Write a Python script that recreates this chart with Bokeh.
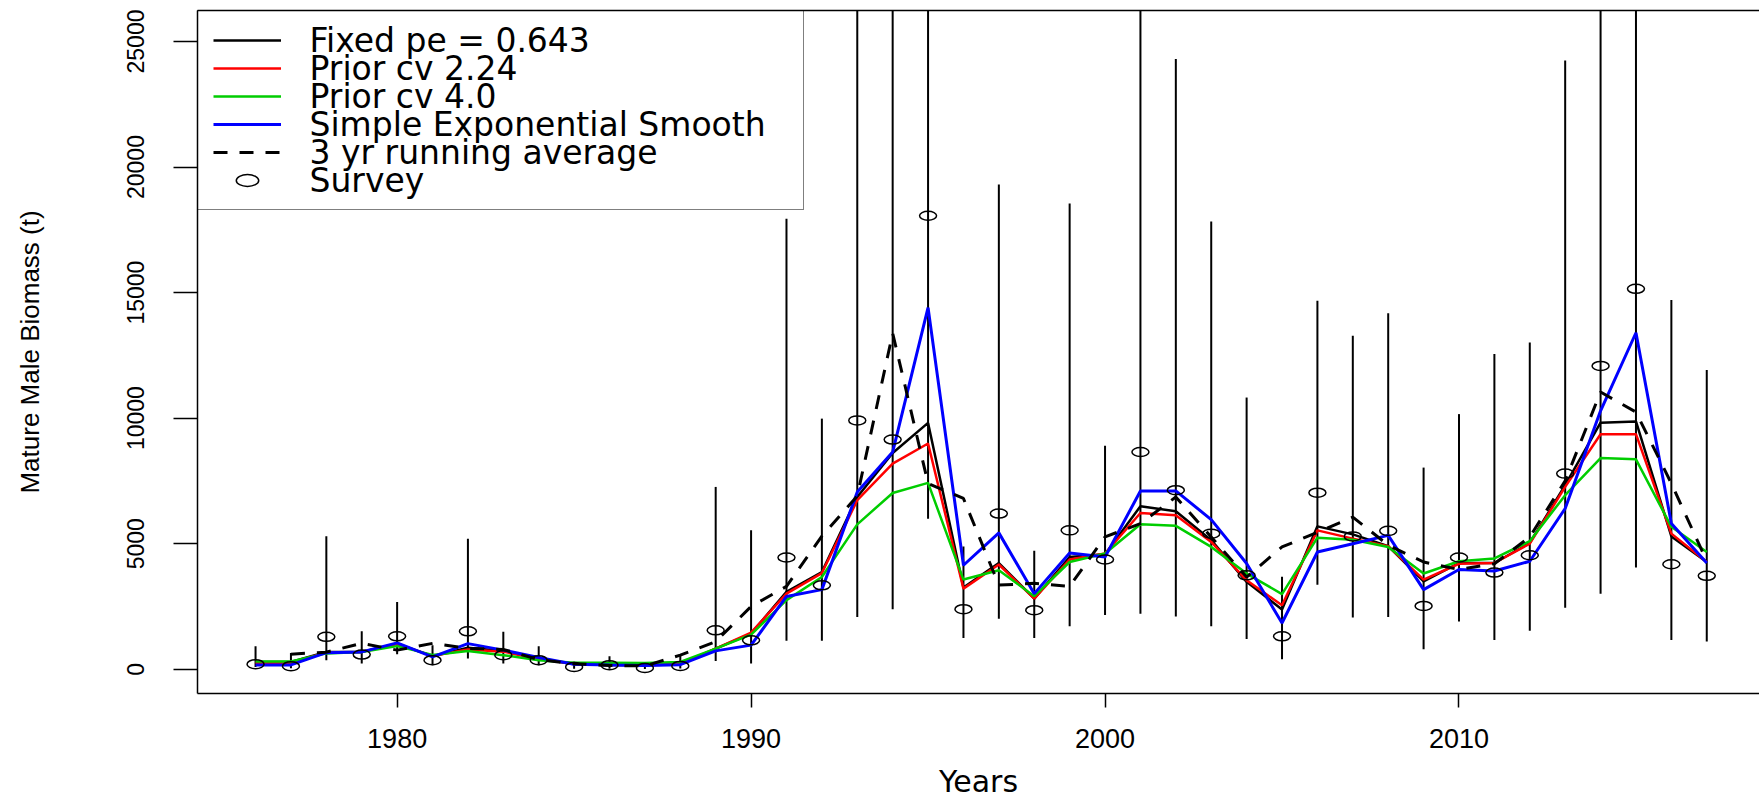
from bokeh.plotting import figure
from bokeh.models import (ColumnDataSource, Legend, LegendItem, LinearAxis,
                          FixedTicker, Range1d, Label)
from bokeh.embed import file_html
from bokeh.resources import INLINE

# ---------------- data ----------------
years = list(range(1976, 2018))

survey = [200, 120, 1290, 585, 1310, 360, 1510, 560, 360, 90,
          160, 50, 130, 1550, 1150, 4450, 3340, 9910, 9145, 18060,
          2390, 6200, 2350, 5530, 4370, 8650, 7130, 5400, 3740, 1310,
          7030, 5290, 5510, 2520, 4450, 3850, 4540, 7790, 12080, 15150,
          4180, 3720]

survey_lo = [90, 40, 360, 225, 600, 160, 425, 225, 160, 20,
             20, 10, 30, 330, 230, 1130, 1130, 2080, 2390, 5990,
             1240, 2010, 1240, 1710, 2160, 2210, 2100, 1710, 1200, 400,
             3360, 2060, 2080, 800, 1900, 1160, 1530, 2450, 3010, 4050,
             1160, 1100]

survey_hi = [915, 650, 5300, 1510, 2680, 955, 5200, 1490, 915, 300,
             520, 270, 600, 7260, 5530, 17940, 9980, 47000, 35000, 54000,
             4890, 19300, 4720, 18550, 8900, 34000, 24300, 17830, 10820, 3680,
             14670, 13280, 14180, 8030, 10160, 12550, 13010, 24240, 48500, 56800,
             14700, 11920]

fixed_pe = [290, 290, 690, 690, 1020, 520, 860, 730, 425, 200,
            170, 160, 200, 820, 1420, 3080, 3870, 6860, 8610, 9810,
            3250, 4230, 2810, 4470, 4580, 6490, 6290, 5140, 3480, 2380,
            5690, 5370, 4900, 3500, 4230, 4230, 5030, 7330, 9820, 9870,
            5290, 4270]

prior_cv224 = [260, 260, 670, 690, 1000, 530, 790, 700, 410, 220,
               180, 170, 210, 820, 1460, 3010, 3830, 6730, 8190, 8990,
               3210, 4170, 2810, 4370, 4610, 6220, 6130, 5070, 3540, 2550,
               5530, 5200, 4900, 3570, 4200, 4230, 5000, 7260, 9360, 9360,
               5400, 4270]

prior_cv40 = [310, 310, 630, 690, 920, 570, 730, 560, 360, 260,
              260, 250, 290, 820, 1380, 2750, 3670, 5770, 7020, 7420,
              3570, 3940, 2910, 4270, 4610, 5770, 5710, 4870, 3810, 2990,
              5240, 5160, 4870, 3810, 4300, 4410, 5100, 6930, 8410, 8360,
              5670, 4670]

ses = [170, 170, 660, 690, 1050, 490, 1020, 760, 470, 200,
       170, 150, 180, 730, 960, 2900, 3170, 7060, 8650, 14400,
       4140, 5430, 3010, 4630, 4470, 7100, 7100, 5960, 4210, 1840,
       4670, 5000, 5330, 3170, 3970, 3910, 4300, 6400, 10290, 13400,
       5800, 4230]

run_years = list(range(1977, 2018))
run_avg = [600, 680, 1030, 760, 1030, 830, 790, 380, 220,
           150, 130, 560, 1100, 2500, 3300, 5300, 6900, 13380, 7400,
           6800, 3350, 3420, 3300, 5270, 5800, 6860, 5270, 3670, 4870,
           5450, 6060, 4940, 4270, 3970, 4200, 5270, 7500, 11040, 10240,
           7400, 4300]

x_ticks = [1980, 1990, 2000, 2010]
y_ticks = [0, 5000, 10000, 15000, 20000, 25000]

legend_labels = ["Fixed pe = 0.643", "Prior cv 2.24", "Prior cv 4.0",
                 "Simple Exponential Smooth", "3 yr running average", "Survey"]

# ---------------- figure ----------------
FRAME_BOTTOM = 115
p = figure(width=1759, height=808, output_backend="svg", toolbar_location=None,
           x_range=Range1d(1974.36, 2018.49), y_range=Range1d(-967, 26234),
           min_border_left=197, min_border_right=0, min_border_top=10,
           min_border_bottom=FRAME_BOTTOM, background_fill_color="white",
           border_fill_color="white")
p.grid.visible = False
p.outline_line_color = None

src = ColumnDataSource(dict(year=years, survey=survey, lo=survey_lo, hi=survey_hi,
                            fixed=fixed_pe, p224=prior_cv224, p40=prior_cv40, ses=ses))
rsrc = ColumnDataSource(dict(year=run_years, avg=run_avg))

p.segment(x0="year", y0="lo", x1="year", y1="hi", source=src,
          line_color="black", line_width=2)

r_fixed = p.line("year", "fixed", source=src, line_color="black", line_width=2.5)
r_224 = p.line("year", "p224", source=src, line_color="#FF0000", line_width=2.5)
r_40 = p.line("year", "p40", source=src, line_color="#00CD00", line_width=2.5)
r_ses = p.line("year", "ses", source=src, line_color="#0000FF", line_width=3)
r_run = p.line("year", "avg", source=rsrc, line_color="black", line_width=3,
               line_dash="14 12")
r_surv = p.ellipse(x="year", y="survey", width=17, height=9,
                   width_units="screen", height_units="screen", source=src,
                   fill_color=None, line_color="black", line_width=1.5)

# ---------------- axes ----------------
xa = p.below[0]
xa.ticker = FixedTicker(ticks=x_ticks)
xa.axis_label = "Years"
xa.axis_line_color = "black"
xa.axis_line_width = 1.5
xa.major_tick_out = 14
xa.major_tick_in = 0
xa.minor_tick_out = 0
xa.minor_tick_in = 0
xa.major_tick_line_width = 1.5
xa.major_label_text_font = "Liberation Sans"
xa.major_label_text_font_size = "27px"
xa.major_label_text_color = "black"
xa.major_label_standoff = 21
xa.axis_label_text_font = "DejaVu Sans"
xa.axis_label_text_font_size = "30px"
xa.axis_label_text_font_style = "normal"
xa.axis_label_text_color = "black"
xa.axis_label_standoff = 13

ya = p.left[0]
ya.ticker = FixedTicker(ticks=y_ticks)
ya.axis_label = "Mature Male Biomass (t)"
ya.axis_line_color = "black"
ya.axis_line_width = 1.5
ya.major_tick_out = 24
ya.major_tick_in = 0
ya.minor_tick_out = 0
ya.minor_tick_in = 0
ya.major_tick_line_width = 1.5
ya.major_label_orientation = "vertical"
ya.major_label_text_font = "Liberation Sans"
ya.major_label_text_font_size = "23px"
ya.major_label_text_color = "black"
ya.major_label_standoff = 29
ya.axis_label_text_font = "Liberation Sans"
ya.axis_label_text_font_size = "26px"
ya.axis_label_text_font_style = "normal"
ya.axis_label_text_color = "black"
ya.axis_label_standoff = 80

top = LinearAxis(ticker=FixedTicker(ticks=[]), major_tick_out=0, major_tick_in=0,
                 minor_tick_out=0, minor_tick_in=0, major_label_standoff=0,
                 major_label_text_font_size="0px", axis_line_color="black",
                 axis_line_width=1.5)
p.add_layout(top, "above")

# ---------------- legend (glyph samples + box) ----------------
renderers = [r_fixed, r_224, r_40, r_ses, r_run, r_surv]
items = [LegendItem(label=" ", renderers=[r]) for r in renderers]
legend = Legend(items=items, location="top_left", margin=0, padding=15,
                spacing=0, glyph_width=68, glyph_height=28, label_height=28,
                label_width=476, label_standoff=31,
                label_text_font="DejaVu Sans", label_text_font_size="10px",
                border_line_color="black", border_line_width=1.5,
                background_fill_alpha=0.0)
p.add_layout(legend)

# legend texts (wide lettering as in the reference), rows 28 px apart
frame_h = 808 - 10 - FRAME_BOTTOM
row_step = 28
first_row = 30
for i, lab in enumerate(legend_labels):
    p.add_layout(Label(x=112, y=frame_h - first_row - i * row_step,
                       x_units="screen", y_units="screen", text=lab,
                       text_font="DejaVu Sans", text_font_size="33px",
                       text_color="black", text_baseline="middle",
                       text_align="left", level="overlay"))

open("out.html", "w").write(file_html(p, INLINE))
